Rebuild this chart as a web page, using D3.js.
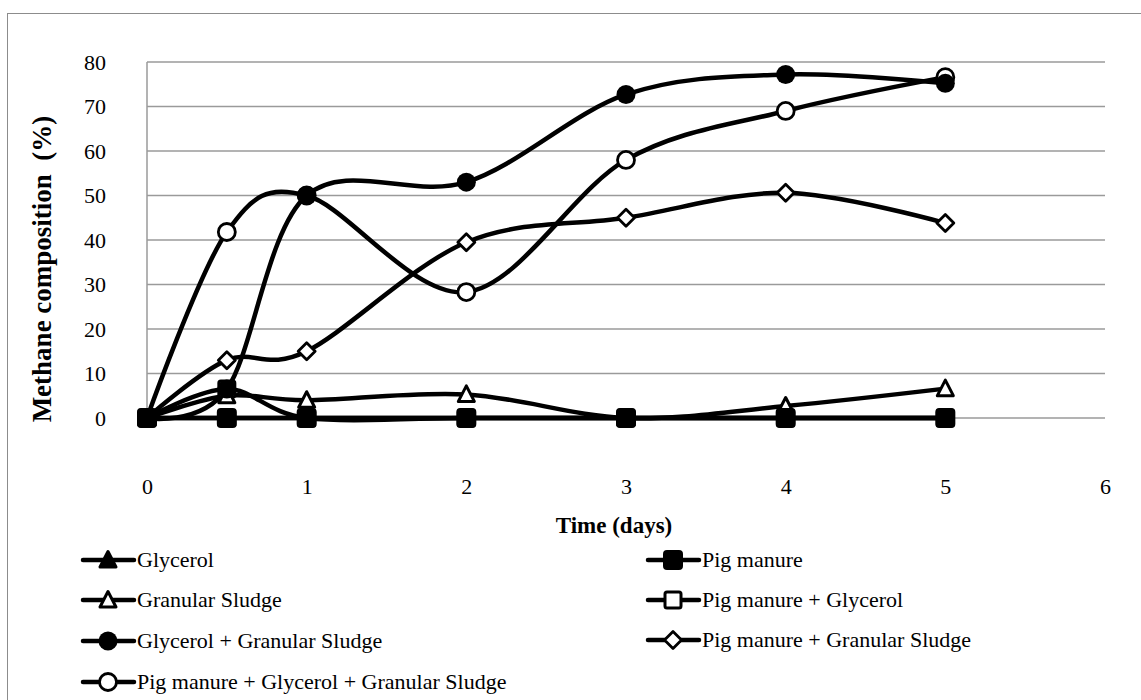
<!DOCTYPE html>
<html>
<head>
<meta charset="utf-8">
<script src="https://cdn.jsdelivr.net/npm/d3@7"></script>
<style>
  html, body { margin: 0; padding: 0; background: #fff; }
  svg { display: block; }
  text { font-family: "Liberation Serif", "Times New Roman", serif; fill: #000; }
</style>
</head>
<body>
<svg id="chart" width="1141" height="700"></svg>
<script>
// Sampling times (days)
const days = [0, 0.5, 1, 2, 3, 4, 5];

// Methane composition (%) per digester feed
const glycerol = [0, 0, 0, 0, 0, 0, 0];
const pigManure = [0, 0, 0, 0, 0, 0, 0];
const granularSludge = [0, 5, 4, 5.3, 0, 2.7, 6.6];
const pigManureGlycerol = [0, 6.5, 0, 0, 0, 0, 0];
const glycerolSludge = [0, 6.5, 50, 53, 72.7, 77.2, 75.2];
const pigManureSludge = [0, 13, 15, 39.5, 45, 50.6, 43.8];
const pigManureGlycerolSludge = [0, 41.8, 50, 28.3, 58, 69, 76.6];

const xTicks = [0, 1, 2, 3, 4, 5, 6];
const yTicks = [0, 10, 20, 30, 40, 50, 60, 70, 80];

const seriesNames = [
  "Glycerol", "Pig manure", "Granular Sludge", "Pig manure + Glycerol",
  "Glycerol + Granular Sludge", "Pig manure + Granular Sludge",
  "Pig manure + Glycerol + Granular Sludge"
];
const seriesValues = [
  glycerol, pigManure, granularSludge, pigManureGlycerol,
  glycerolSludge, pigManureSludge, pigManureGlycerolSludge
];
const seriesMarkers = ["triangleFilled", "squareFilled", "triangleOpen", "squareOpen",
  "circleFilled", "diamondOpen", "circleOpen"];

const series = seriesNames.map((name, i) => ({
  name, marker: seriesMarkers[i],
  points: days.map((d, j) => ({ x: d, y: seriesValues[i][j] }))
}));

const FONT = "'Liberation Serif', 'Times New Roman', serif";
const svg = d3.select("#chart");

// outer chart frame
svg.append("rect")
  .attr("x", 7.5).attr("y", 13.5)
  .attr("width", 1160).attr("height", 720)
  .attr("fill", "none").attr("stroke", "#8c8c8c").attr("stroke-width", 1);

const x = d3.scaleLinear().domain([0, 6]).range([147, 1105]);
const y = d3.scaleLinear().domain([0, 80]).range([418, 62]);

// horizontal gridlines
svg.append("g").selectAll("line").data(yTicks).join("line")
  .attr("x1", x(0)).attr("x2", x(6))
  .attr("y1", d => y(d)).attr("y2", d => y(d))
  .attr("stroke", "#9a9a9a").attr("stroke-width", 1.5);

// vertical axis line
svg.append("line")
  .attr("x1", x(0)).attr("x2", x(0)).attr("y1", y(80)).attr("y2", y(0))
  .attr("stroke", "#9a9a9a").attr("stroke-width", 1.5);

// y tick labels
const yAxis = d3.axisLeft(y).tickValues(yTicks).tickSize(0).tickPadding(0).tickFormat(d3.format("d"));
const gy = svg.append("g").attr("transform", "translate(106,0)").call(yAxis);
gy.attr("font-family", null).attr("font-size", null);
gy.select(".domain").remove();
gy.selectAll("text").style("font-family", FONT).style("font-size", "22px").attr("dy", "0.34em");

// x tick labels, placed below the plot
const xAxis = d3.axisBottom(x).tickValues(xTicks).tickSize(0).tickPadding(0).tickFormat(d3.format("d"));
const gx = svg.append("g").attr("transform", "translate(0,478)").call(xAxis);
gx.attr("font-family", null).attr("font-size", null);
gx.select(".domain").remove();
gx.selectAll("text").style("font-family", FONT).style("font-size", "22px");

// axis titles
svg.append("text")
  .attr("transform", "translate(51,269) rotate(-90)")
  .attr("text-anchor", "middle")
  .style("font-family", FONT).style("font-size", "27px").style("font-weight", "bold")
  .style("white-space", "pre")
  .text("Methane composition  (%)");

svg.append("text")
  .attr("x", 614).attr("y", 533)
  .attr("text-anchor", "middle")
  .style("font-family", FONT).style("font-size", "23px").style("font-weight", "bold")
  .text("Time (days)");

// smoothed series lines
const line = d3.line()
  .x(d => x(d.x)).y(d => y(d.y))
  .curve(d3.curveCardinal.tension(0));

const drawOrder = [3, 0, 2, 5, 6, 4, 1];
svg.append("g").selectAll("path").data(drawOrder.map(i => series[i])).join("path")
  .attr("d", d => line(d.points))
  .attr("fill", "none").attr("stroke", "#000").attr("stroke-width", 4.5)
  .attr("stroke-linejoin", "round").attr("stroke-linecap", "round");

function drawMarker(g, type, cx, cy) {
  switch (type) {
    case "squareFilled":
      g.append("rect").attr("x", cx - 9).attr("y", cy - 9).attr("width", 18).attr("height", 18)
        .attr("rx", 3).attr("fill", "#000").attr("stroke", "#000").attr("stroke-width", 2);
      break;
    case "squareOpen":
      g.append("rect").attr("x", cx - 8).attr("y", cy - 8).attr("width", 16).attr("height", 16)
        .attr("rx", 2).attr("fill", "#fff").attr("stroke", "#000").attr("stroke-width", 3);
      break;
    case "circleFilled":
      g.append("circle").attr("cx", cx).attr("cy", cy).attr("r", 9.5).attr("fill", "#000");
      break;
    case "circleOpen":
      g.append("circle").attr("cx", cx).attr("cy", cy).attr("r", 8.5)
        .attr("fill", "#fff").attr("stroke", "#000").attr("stroke-width", 2.8);
      break;
    case "diamondOpen":
      g.append("path")
        .attr("d", `M${cx},${cy - 8.5}L${cx + 8.5},${cy}L${cx},${cy + 8.5}L${cx - 8.5},${cy}Z`)
        .attr("fill", "#fff").attr("stroke", "#000").attr("stroke-width", 2.8)
        .attr("stroke-linejoin", "round");
      break;
    case "triangleFilled":
    case "triangleOpen":
      g.append("path")
        .attr("d", `M${cx},${cy - 8.5}L${cx + 8},${cy + 7}L${cx - 8},${cy + 7}Z`)
        .attr("fill", type === "triangleFilled" ? "#000" : "#fff")
        .attr("stroke", "#000").attr("stroke-width", 3).attr("stroke-linejoin", "round");
      break;
  }
}

// markers, drawn so the zero-level squares sit on top
const gm = svg.append("g");
drawOrder.forEach(i => {
  series[i].points.forEach(p => drawMarker(gm, series[i].marker, x(p.x), y(p.y)));
});

// legend (two columns)
const legendPos = [
  { cx: 108, cy: 560 }, { cx: 673, cy: 560 },
  { cx: 108, cy: 600 }, { cx: 673, cy: 600 },
  { cx: 108, cy: 641 }, { cx: 673, cy: 640 },
  { cx: 108, cy: 682 }
];
const gl = svg.append("g");
series.forEach((s, i) => {
  const p = legendPos[i];
  gl.append("line")
    .attr("x1", p.cx - 25).attr("x2", p.cx + 26).attr("y1", p.cy).attr("y2", p.cy)
    .attr("stroke", "#000").attr("stroke-width", 4.5).attr("stroke-linecap", "round");
  drawMarker(gl, s.marker, p.cx, p.cy);
  gl.append("text")
    .attr("x", p.cx + 29).attr("y", p.cy).attr("dy", "0.34em")
    .style("font-family", FONT).style("font-size", "22px")
    .text(s.name);
});
</script>
</body>
</html>
